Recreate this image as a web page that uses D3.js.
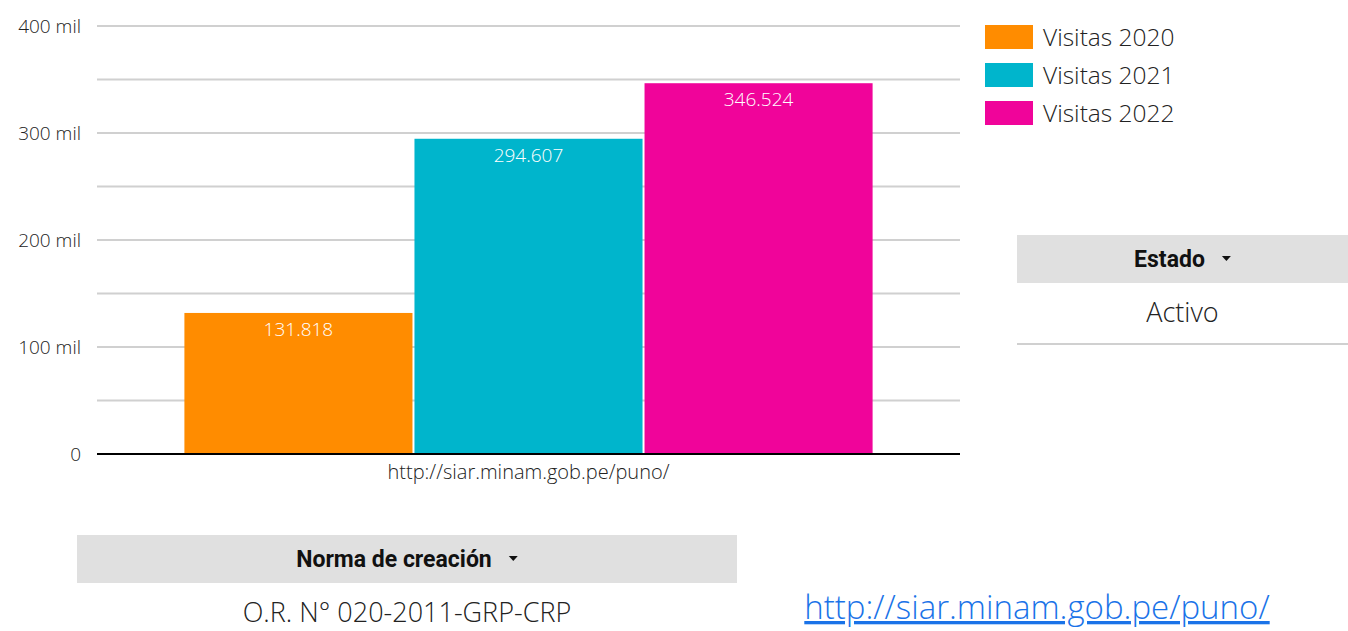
<!DOCTYPE html>
<head>
  <meta charset="utf-8" />
  <style>
    body { margin: 0; background: #fff; }
    svg text { font-family: 'Open Sans', sans-serif; }
  </style>
</head>
<div id="div_template"></div>
<script src="https://d3js.org/d3.v7.min.js"></script>
<script>
  // data
  const categories = ['http://siar.minam.gob.pe/puno/'];
  const seriesNames = ['Visitas 2020', 'Visitas 2021', 'Visitas 2022'];
  const seriesColors = ['#FF8C00', '#00B5CC', '#F0049A'];
  const seriesValues = [[131818], [294607], [346524]];
  const yTicks = [0, 100000, 200000, 300000, 400000];
  const gridTicks = [50000, 100000, 150000, 200000, 250000, 300000, 350000, 400000];
  const estadoLabel = 'Estado';
  const estadoValue = 'Activo';
  const normaLabel = 'Norma de creación';
  const normaValue = 'O.R. N° 020-2011-GRP-CRP';
  const linkText = 'http://siar.minam.gob.pe/puno/';

  const width = 1348,
    height = 631;
  const svg = d3
    .select('#div_template')
    .append('svg')
    .attr('width', width)
    .attr('height', height);

  const plot = { left: 97, right: 960, top: 26, bottom: 454 };
  const font = "'Open Sans', sans-serif";

  const yScale = d3.scaleLinear().domain([0, 400000]).range([plot.bottom, plot.top]);
  const x0 = d3
    .scaleBand()
    .domain(categories)
    .range([plot.left, plot.right])
    .paddingOuter(0.127);
  const x1 = d3
    .scaleBand()
    .domain(seriesNames)
    .range([0, x0.bandwidth() + 2]);

  const fmtNum = (v) => d3.format(',')(v).replace(/,/g, '.');

  // grid
  svg
    .append('g')
    .selectAll('line')
    .data(gridTicks)
    .join('line')
    .attr('x1', plot.left)
    .attr('x2', plot.right)
    .attr('y1', (d) => yScale(d))
    .attr('y2', (d) => yScale(d))
    .attr('stroke', '#d0d0d0')
    .attr('stroke-width', 2);

  // y axis labels
  const yAxis = d3
    .axisLeft(yScale)
    .tickValues(yTicks)
    .tickSize(0)
    .tickPadding(16)
    .tickFormat((d) => (d === 0 ? '0' : d / 1000 + ' mil'));
  const gy = svg.append('g').attr('transform', `translate(${plot.left},0)`).call(yAxis);
  gy.attr('font-family', font).attr('font-size', 19);
  gy.select('.domain').remove();
  gy.selectAll('text').attr('fill', '#222').attr('font-weight', 300);

  // bars
  const groups = svg
    .append('g')
    .selectAll('g')
    .data(categories)
    .join('g')
    .attr('transform', (d) => `translate(${x0(d)},0)`);

  const cells = (c, ci) => seriesNames.map((s, si) => ({ s, si, v: seriesValues[si][ci] }));

  groups
    .selectAll('rect')
    .data(cells)
    .join('rect')
    .attr('x', (d) => x1(d.s))
    .attr('width', x1.bandwidth() - 2)
    .attr('y', (d) => yScale(d.v))
    .attr('height', (d) => yScale(0) - yScale(d.v))
    .attr('fill', (d) => seriesColors[d.si]);

  groups
    .selectAll('text.val')
    .data(cells)
    .join('text')
    .attr('class', 'val')
    .attr('x', (d) => x1(d.s) + (x1.bandwidth() - 2) / 2)
    .attr('y', (d) => yScale(d.v) + 23)
    .attr('text-anchor', 'middle')
    .attr('font-size', 19)
    .attr('font-weight', 300)
    .attr('fill', '#fff')
    .text((d) => fmtNum(d.v));

  // baseline
  svg
    .append('line')
    .attr('x1', plot.left)
    .attr('x2', plot.right)
    .attr('y1', yScale(0))
    .attr('y2', yScale(0))
    .attr('stroke', '#000')
    .attr('stroke-width', 2);

  // x axis
  const xAxis = d3.axisBottom(x0).tickSize(0).tickPadding(11);
  const gx = svg.append('g').attr('transform', `translate(0,${plot.bottom})`).call(xAxis);
  gx.attr('font-family', font).attr('font-size', 20);
  gx.select('.domain').remove();
  gx.selectAll('text').attr('fill', '#222').attr('font-weight', 300);

  // legend
  const legend = svg
    .append('g')
    .selectAll('g')
    .data(seriesNames)
    .join('g')
    .attr('transform', (d, i) => `translate(985,${25 + i * 38})`);
  legend
    .append('rect')
    .attr('width', 48)
    .attr('height', 24)
    .attr('fill', (d, i) => seriesColors[i]);
  legend
    .append('text')
    .attr('x', 58)
    .attr('y', 21)
    .attr('font-size', 24.5)
    .attr('font-weight', 300)
    .attr('fill', '#222')
    .text((d) => d);

  // filter controls
  function control(x, w, y, label, value, line) {
    const g = svg.append('g');
    g.append('rect')
      .attr('x', x)
      .attr('y', y)
      .attr('width', w)
      .attr('height', 48)
      .attr('fill', '#e0e0e0');
    const t = g
      .append('text')
      .attr('y', y + 32)
      .attr('font-size', 23)
      .attr('font-weight', 'bold')
      .attr('fill', '#111')
      .style('font-family', "'Roboto', sans-serif")
      .text(label);
    const tw = t.node().getComputedTextLength();
    const total = tw + 17 + 9;
    const tx = x + (w - total) / 2;
    t.attr('x', tx);
    const ax = tx + tw + 17;
    const ay = y + 21;
    g.append('path')
      .attr('d', `M${ax},${ay} L${ax + 9},${ay} L${ax + 4.5},${ay + 5} Z`)
      .attr('fill', '#111');
    g.append('text')
      .attr('x', x + w / 2)
      .attr('y', y + 87)
      .attr('text-anchor', 'middle')
      .attr('font-size', 27)
      .attr('font-weight', 300)
      .attr('fill', '#222')
      .text(value);
    if (line) {
      g.append('line')
        .attr('x1', x)
        .attr('x2', x + w)
        .attr('y1', y + 109)
        .attr('y2', y + 109)
        .attr('stroke', '#d0d0d0')
        .attr('stroke-width', 2);
    }
  }
  control(1017, 331, 235, estadoLabel, estadoValue, true);
  control(77, 660, 535, normaLabel, normaValue, false);

  // link
  svg
    .append('text')
    .attr('x', 1037)
    .attr('y', 619)
    .attr('text-anchor', 'middle')
    .attr('font-size', 33)
    .attr('font-weight', 300)
    .attr('fill', '#1a73e8')
    .attr('text-decoration', 'underline')
    .text(linkText);
</script>
